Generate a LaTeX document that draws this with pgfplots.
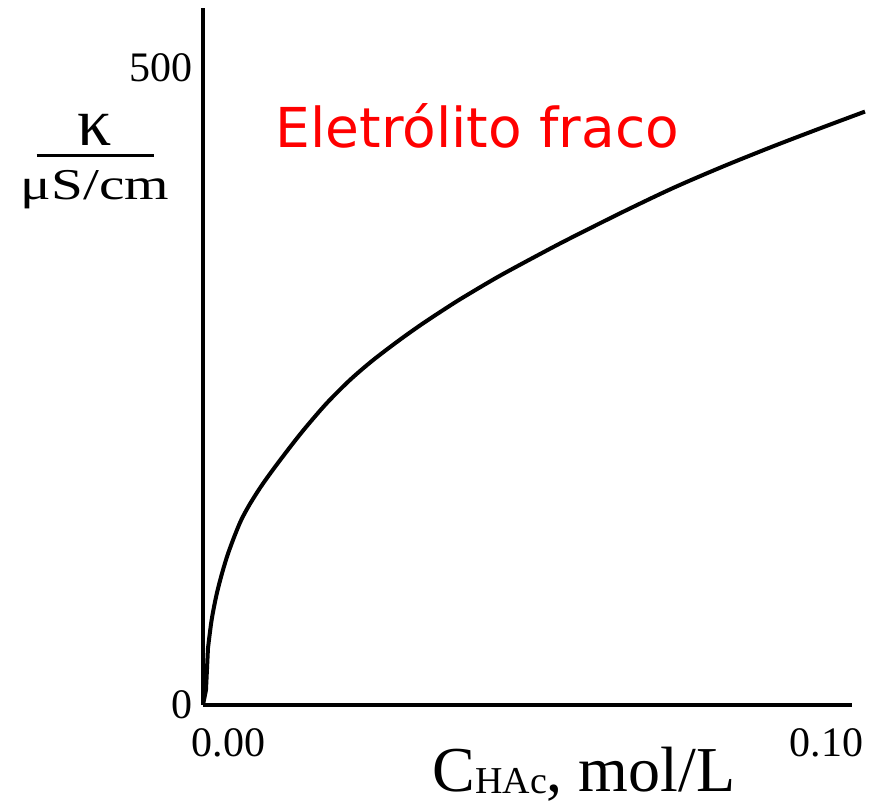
\documentclass[border=0pt]{standalone}
\usepackage{fontspec}
\setmainfont{Liberation Serif}
\newfontfamily\redfont{DejaVu Sans}
\usepackage{graphicx}
\usepackage{pgfplots}
\pgfplotsset{compat=1.18}
\begin{document}
\begin{tikzpicture}[x=1pt,y=1pt]
\useasboundingbox (-101.5,-49) rectangle (336.5,352.5);
\begin{axis}[
  at={(0,0)}, anchor=south west,
  scale only axis, width=324.5pt, height=348.5pt,
  xmin=0, xmax=0.1, ymin=0, ymax=547,
  axis lines=left,
  axis line style={-, line width=1.8pt},
  clip=false,
  xtick={0,0.1}, ytick={0,500},
  major tick length=0pt,
  tick style={draw=none},
  xticklabels={\makebox[0pt][l]{\hspace*{-5.5pt}0.00}, \makebox[0pt][r]{\raisebox{-2.5pt}{0.10}\hspace*{-5.5pt}}},
  yticklabels={0,500},
  tick label style={font=\fontsize{21}{21}\selectfont, inner sep=0pt},
  xticklabel style={anchor=north, yshift=-11.5pt},
  yticklabel style={anchor=east, xshift=-5pt},
  xlabel={C{\fontsize{19}{19}\selectfont\raisebox{-1pt}{HAc}}, mol/L},
  xlabel style={font=\fontsize{32}{32}\selectfont, at={(axis description cs:0.587,-0.1248)}, anchor=base, inner sep=0pt},
  ylabel={\vbox{\offinterlineskip
      \hbox to 80pt{\hss\fontsize{34}{34}\selectfont κ\hss}\kern4.25pt
      \hbox to 80pt{\hss\rule{58.5pt}{1.5pt}\hss}\kern6.35pt
      \hbox to 80pt{\hss\fontsize{22}{22}\selectfont\scalebox{1.3}[1]{μS/cm}\hss}}},
  ylabel style={rotate=-90, anchor=center, inner sep=0pt, at={(axis description cs:-0.1664,0.7798)}},
]
\addplot[black, line width=2pt, line join=round] coordinates {
(0,0) (0.00046,11.8) (0.00077,44.7)
};
\addplot[black, line width=2pt, line join=round, smooth, tension=0.5] coordinates {
(0.00077,44.7) (0.00128,65.1) (0.00180,79.7) (0.00231,91.4)
(0.00308,106.0) (0.00385,118.7) (0.00488,132.9) (0.00590,145.3)
(0.00720,157.5) (0.00898,171.8) (0.01105,186.5) (0.01387,205.4)
(0.01602,219.0) (0.01911,237.1) (0.02265,255.1) (0.02619,270.6)
(0.03035,286.7) (0.03390,299.5) (0.03760,311.9) (0.04006,319.8)
(0.04576,336.9) (0.05300,356.8) (0.05701,367.4) (0.06471,387.0)
(0.07242,405.7) (0.08012,422.6) (0.08783,438.4) (0.09553,453.4)
(0.10200,465.7)
};
\node[anchor=base, text=red, inner sep=0pt, font=\redfont\fontsize{27.5}{27.5}\selectfont] at (axis cs:0.04230,437.2) {Eletrólito fraco};
\end{axis}
\end{tikzpicture}
\end{document}
